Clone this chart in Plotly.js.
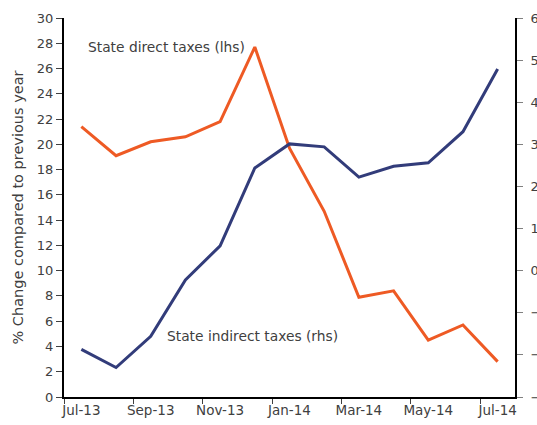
<!DOCTYPE html>
<html>
<head>
<meta charset="utf-8">
<script src="https://cdn.plot.ly/plotly-3.0.1.min.js"></script>
<style>html,body{margin:0;padding:0;background:#fff;}#chart{width:537px;height:425px;}</style>
</head>
<body>
<div id="chart"></div>
<script>
const months = ['Jul-13','Aug-13','Sep-13','Oct-13','Nov-13','Dec-13','Jan-14','Feb-14','Mar-14','Apr-14','May-14','Jun-14','Jul-14'];
const directTaxes = [21.4, 19.1, 20.2, 20.6, 21.8, 27.7, 19.7, 14.7, 7.9, 8.4, 4.5, 5.7, 2.8];
const indirectTaxes = [-1.87, -2.30, -1.56, -0.22, 0.59, 2.44, 3.01, 2.94, 2.22, 2.48, 2.56, 3.30, 4.79];
const labelDirect = 'State direct taxes (lhs)';
const labelIndirect = 'State indirect taxes (rhs)';

const idx = months.map((m, i) => i);
const labelIdx = idx.filter(i => i % 2 === 0);
const boundaryIdx = labelIdx.map(i => i - 0.5);

const yTickFont = {family: 'DejaVu Sans, sans-serif', size: 13, color: '#404040'};
const xTickFont = {family: 'DejaVu Sans, sans-serif', size: 13.5, color: '#404040'};

const traces = [
  {x: idx, y: directTaxes, name: labelDirect, type: 'scatter', mode: 'lines',
   line: {color: '#EE5A24', width: 3}, yaxis: 'y', hoverinfo: 'y'},
  {x: idx, y: indirectTaxes, name: labelIndirect, type: 'scatter', mode: 'lines',
   line: {color: '#323C7A', width: 3}, yaxis: 'y2', hoverinfo: 'y'}
];

const layout = {
  width: 537, height: 425,
  margin: {l: 64, r: 22, t: 18, b: 28},
  paper_bgcolor: '#fff', plot_bgcolor: '#fff',
  showlegend: false,
  font: {family: 'DejaVu Sans, sans-serif', color: '#404040'},
  xaxis: {
    range: [-0.5, 12.5], showgrid: false, zeroline: false,
    tickmode: 'array', tickvals: labelIdx, ticktext: labelIdx.map(i => months[i]),
    ticks: 'outside', ticklen: 0, tickfont: xTickFont,
    minor: {tickmode: 'array', tickvals: boundaryIdx, ticks: 'outside', ticklen: 5, tickcolor: '#404040', tickwidth: 1, showgrid: false},
    showline: true, linecolor: '#000', linewidth: 2
  },
  yaxis: {
    range: [0, 30], dtick: 2, tick0: 0, showgrid: false, zeroline: false,
    ticks: 'outside', ticklen: 6, tickcolor: '#404040', tickfont: yTickFont,
    showline: true, linecolor: '#000', linewidth: 2,
    title: {text: '% Change compared to previous year', font: {family: 'DejaVu Sans, sans-serif', size: 14.5, color: '#404040'}, standoff: 10}
  },
  yaxis2: {
    range: [-3, 6], dtick: 1, tick0: 0, overlaying: 'y', side: 'right',
    showgrid: false, zeroline: false,
    ticks: 'outside', ticklen: 6, tickcolor: '#808080', tickfont: yTickFont,
    ticklabelstandoff: 5,
    showline: true, linecolor: '#000', linewidth: 2
  },
  annotations: [
    {x: 0.13, y: 27.7, xref: 'x', yref: 'y', text: labelDirect, showarrow: false,
     xanchor: 'left', yanchor: 'middle', font: {family: 'DejaVu Sans, sans-serif', size: 13.8, color: '#404040'}},
    {x: 2.42, y: 4.85, xref: 'x', yref: 'y', text: labelIndirect, showarrow: false,
     xanchor: 'left', yanchor: 'middle', font: {family: 'DejaVu Sans, sans-serif', size: 13.8, color: '#404040'}}
  ]
};

Plotly.newPlot('chart', traces, layout, {displayModeBar: false, staticPlot: true});
</script>
</body>
</html>
